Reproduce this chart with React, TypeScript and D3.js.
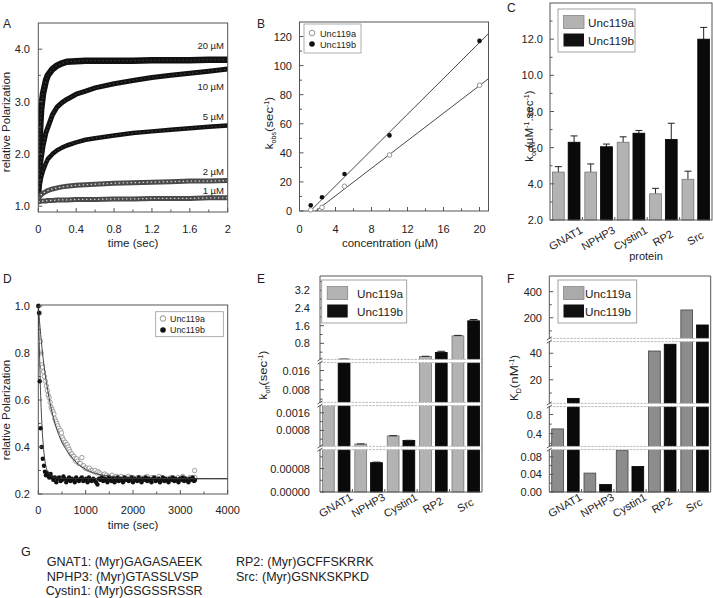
import React from "react";
import * as d3 from "d3";

const FONT = "Arial, 'Liberation Sans', Helvetica, sans-serif";
const AXIS = "#555";

// ---------------- Panel A: association traces ----------------
const timeA = [0, 0.01, 0.02, 0.03, 0.05, 0.08, 0.1, 0.15, 0.2, 0.25, 0.3, 0.4, 0.5, 0.6, 0.8, 1.0, 1.2, 1.4, 1.6, 1.8, 2.0];
const polA20 = [1.3, 2.0, 2.5, 2.85, 3.15, 3.4, 3.5, 3.62, 3.69, 3.73, 3.76, 3.77, 3.78, 3.78, 3.78, 3.78, 3.79, 3.79, 3.79, 3.8, 3.8];
const polA10 = [1.3, 1.55, 1.75, 1.9, 2.15, 2.4, 2.5, 2.75, 2.9, 2.98, 3.04, 3.14, 3.2, 3.26, 3.34, 3.4, 3.46, 3.5, 3.54, 3.58, 3.62];
const polA5 = [1.2, 1.35, 1.45, 1.55, 1.68, 1.82, 1.9, 2.0, 2.07, 2.12, 2.16, 2.22, 2.27, 2.3, 2.35, 2.4, 2.43, 2.46, 2.49, 2.52, 2.54];
const polA2 = [1.15, 1.18, 1.2, 1.22, 1.25, 1.28, 1.3, 1.33, 1.35, 1.37, 1.38, 1.4, 1.41, 1.42, 1.44, 1.45, 1.46, 1.47, 1.48, 1.48, 1.49];
const polA1 = [1.08, 1.09, 1.09, 1.1, 1.1, 1.1, 1.11, 1.11, 1.12, 1.12, 1.12, 1.13, 1.13, 1.13, 1.14, 1.14, 1.15, 1.15, 1.15, 1.16, 1.16];
const concLabelsA = ["20 µM", "10 µM", "5 µM", "2 µM", "1 µM"];
const xTicksA = [0, 0.4, 0.8, 1.2, 1.6, 2];
const xTickLabelsA = ["0", "0.4", "0.8", "1.2", "1.6", "2"];
const yTicksA = [1, 2, 3, 4];
const yTickLabelsA = ["1.0", "2.0", "3.0", "4.0"];

// ---------------- Panel B: kobs vs concentration ----------------
const concB = [1.25, 2.5, 5, 10, 20];
const kobsA = [0.8, 2.5, 17, 38.5, 86.5];
const kobsB = [4, 9.5, 25.5, 52, 117];
const fitLineA: [number, number][] = [[1.8, 0], [21, 91]];
const fitLineB: [number, number][] = [[1.2, 0], [21, 122]];
const xTicksB = [0, 4, 8, 12, 16, 20];
const yTicksB = [0, 20, 40, 60, 80, 100, 120];

// ---------------- Panels C, E, F: bar charts ----------------
const proteins = ["GNAT1", "NPHP3", "Cystin1", "RP2", "Src"];
const seriesNames = ["Unc119a", "Unc119b"];

const konA = [4.65, 4.65, 6.3, 3.45, 4.25];
const konAErr = [0.3, 0.45, 0.3, 0.3, 0.45];
const konB = [6.3, 6.05, 6.8, 6.45, 12.0];
const konBErr = [0.35, 0.15, 0.15, 0.9, 0.65];
const yTicksC = [2, 4, 6, 8, 10, 12];
const yTickLabelsC = ["2.0", "4.0", "6.0", "8.0", "10.0", "12.0"];

const koffA = [0.0022, 0.00018, 0.00055, 0.2, 1.14];
const koffAErr = [0.00003, 0.000005, 0.00001, 0.015, 0.02];
const koffB = [0.08, 0.0001, 0.00034, 0.39, 1.82];
const koffBErr = [0.005, 0.000002, 0.00001, 0.05, 0.06];
const koffSegDomains: [number, number][] = [[0, 0.00015], [0, 0.002], [0.002, 0.02], [0, 3.85]];
const koffTicks = [[0, 0.00008], [0.0008, 0.0016], [0.008, 0.016], [0.8, 1.6, 2.4, 3.2]];
const koffTickLabels = [["0.00000", "0.00008"], ["0.0008", "0.0016"], ["0.008", "0.016"], ["0.8", "1.6", "2.4", "3.2"]];
const koffMinor = [[0.00004, 0.00012], [0.0004, 0.0012], [0.004, 0.012], [0.4, 1.2, 2.0, 2.8, 3.6]];

const kdA = [0.5, 0.043, 0.094, 41.7, 260];
const kdB = [6, 0.017, 0.058, 46.8, 145];
const kdSegDomains: [number, number][] = [[0, 0.1], [0.1, 1.0], [1, 50], [30, 520]];
const kdTicks = [[0, 0.04, 0.08], [0.4, 0.8], [20, 40], [200, 400]];
const kdTickLabels = [["0.00", "0.04", "0.08"], ["0.4", "0.8"], ["20", "40"], ["200", "400"]];
const kdMinor = [[0.02, 0.06], [0.2, 0.6], [10, 30], [100, 300]];

// ---------------- Panel D: dissociation ----------------
const dissocA: [number, number][] = [
  [10, 1.0], [30, 0.97], [45, 0.85], [60, 0.8], [75, 0.75], [90, 0.74], [110, 0.72], [130, 0.7], [150, 0.68],
  [170, 0.66], [190, 0.64], [210, 0.62], [230, 0.61], [250, 0.59], [270, 0.57], [290, 0.56], [310, 0.55],
  [330, 0.54], [350, 0.52], [370, 0.51], [390, 0.5], [410, 0.49], [430, 0.48], [450, 0.47], [470, 0.47],
  [490, 0.46], [510, 0.44], [530, 0.43], [550, 0.42], [570, 0.42], [590, 0.41], [610, 0.41], [630, 0.4],
  [650, 0.39], [670, 0.38], [690, 0.37], [710, 0.37], [730, 0.36], [750, 0.36], [770, 0.35], [790, 0.34],
  [810, 0.35], [830, 0.34], [850, 0.33], [870, 0.33], [890, 0.33], [920, 0.355], [940, 0.32], [960, 0.32],
  [990, 0.31], [1020, 0.31], [1050, 0.305], [1080, 0.31], [1110, 0.3], [1140, 0.3], [1170, 0.295], [1200, 0.3],
  [1230, 0.29], [1260, 0.295], [1290, 0.29], [1320, 0.285], [1360, 0.28], [1400, 0.285], [1440, 0.28],
  [1480, 0.275], [1520, 0.275], [1560, 0.28], [1600, 0.27], [1650, 0.275], [1700, 0.27], [1750, 0.275],
  [1800, 0.27], [1850, 0.265], [1900, 0.275], [1950, 0.27], [2000, 0.27], [2050, 0.265], [2100, 0.27],
  [2150, 0.27], [2200, 0.265], [2250, 0.27], [2300, 0.275], [2350, 0.265], [2400, 0.27], [2450, 0.26],
  [2500, 0.265], [2550, 0.275], [2600, 0.27], [2650, 0.265], [2700, 0.26], [2750, 0.265], [2800, 0.27],
  [2850, 0.265], [2900, 0.26], [2950, 0.27], [3000, 0.265], [3050, 0.275], [3100, 0.265], [3150, 0.26],
  [3200, 0.27], [3250, 0.265], [3300, 0.3], [3310, 0.27],
];
const dissocB: [number, number][] = [
  [0, 1.0], [15, 0.97], [30, 0.68], [50, 0.48], [70, 0.4], [95, 0.35], [120, 0.32], [140, 0.295], [160, 0.28],
  [180, 0.29], [200, 0.28], [230, 0.27], [260, 0.285], [290, 0.27], [320, 0.26], [350, 0.27], [380, 0.25],
  [410, 0.265], [440, 0.27], [470, 0.255], [500, 0.26], [530, 0.275], [560, 0.265], [590, 0.25], [620, 0.26],
  [650, 0.27], [680, 0.255], [710, 0.265], [740, 0.26], [770, 0.25], [800, 0.27], [830, 0.26], [860, 0.255],
  [890, 0.265], [920, 0.27], [950, 0.255], [980, 0.26], [1010, 0.265], [1040, 0.25], [1070, 0.27], [1100, 0.26],
  [1130, 0.255], [1160, 0.265], [1190, 0.26], [1220, 0.25], [1250, 0.24], [1280, 0.265], [1310, 0.26],
  [1340, 0.27], [1370, 0.255], [1400, 0.265], [1430, 0.26], [1460, 0.25], [1490, 0.27], [1520, 0.26],
  [1550, 0.255], [1580, 0.265], [1610, 0.25], [1640, 0.26], [1670, 0.27], [1700, 0.255], [1730, 0.265],
  [1760, 0.26], [1790, 0.25], [1820, 0.27], [1850, 0.26], [1880, 0.265], [1910, 0.255], [1940, 0.26],
  [1970, 0.27], [2000, 0.25], [2030, 0.265], [2060, 0.26], [2090, 0.255], [2120, 0.27], [2150, 0.26],
  [2180, 0.25], [2210, 0.265], [2240, 0.26], [2270, 0.27], [2300, 0.255], [2330, 0.265], [2360, 0.26],
  [2390, 0.25], [2420, 0.265], [2450, 0.27], [2480, 0.255], [2510, 0.26], [2540, 0.265], [2570, 0.25],
  [2600, 0.26], [2630, 0.27], [2660, 0.255], [2690, 0.265], [2720, 0.26], [2750, 0.25], [2780, 0.265],
  [2810, 0.26], [2840, 0.27], [2870, 0.255], [2900, 0.265], [2930, 0.26], [2960, 0.25], [2990, 0.265],
  [3020, 0.26], [3050, 0.27], [3080, 0.255], [3110, 0.265], [3140, 0.26], [3170, 0.25], [3200, 0.265],
  [3230, 0.26], [3260, 0.27], [3290, 0.255], [3310, 0.26],
];
const fitDissocA: [number, number][] = [
  [0, 1.0], [50, 0.88], [100, 0.78], [200, 0.64], [300, 0.54], [400, 0.47], [500, 0.42], [600, 0.385],
  [800, 0.335], [1000, 0.305], [1200, 0.288], [1500, 0.276], [2000, 0.268], [3000, 0.265], [4000, 0.265],
];
const fitDissocB: [number, number][] = [
  [0, 1.0], [25, 0.8], [50, 0.62], [75, 0.5], [100, 0.42], [150, 0.33], [200, 0.295], [300, 0.272],
  [500, 0.266], [4000, 0.265],
];
const xTicksD = [0, 1000, 2000, 3000, 4000];
const yTicksD = [0.2, 0.4, 0.6, 0.8, 1.0];

const peptideLeft = ["GNAT1: (Myr)GAGASAEEK", "NPHP3: (Myr)GTASSLVSP", "Cystin1: (Myr)GSGSSRSSR"];
const peptideRightNames = ["RP2:", "Src:"];
const peptideRightSeqs = ["(Myr)GCFFSKRRK", "(Myr)GSNKSKPKD"];

// ---------------- text width (Arial metrics, per 1000 em) ----------------
const AW: Record<string, number> = {
  " ": 278, "(": 333, ")": 333, "-": 333, ".": 278, ":": 278, "µ": 576,
  "0": 556, "1": 556, "2": 556, "3": 556, "4": 556, "5": 556, "6": 556, "7": 556, "8": 556, "9": 556,
  A: 667, B: 667, C: 722, D: 722, E: 667, F: 611, G: 778, H: 722, I: 278, K: 667, L: 556, M: 833, N: 722,
  P: 667, R: 722, S: 667, T: 611, U: 722, V: 667, Y: 667,
  a: 556, b: 556, c: 500, d: 556, e: 556, f: 278, g: 556, h: 556, i: 222, k: 500, l: 222, m: 833, n: 556,
  o: 556, p: 556, r: 333, s: 500, t: 278, u: 556, v: 500, y: 500, z: 500,
};
function aw(s: string, size: number) {
  let w = 0;
  for (const ch of s) w += AW[ch] ?? 556;
  return (w / 1000) * size;
}

type TP = { x?: number; y?: number; size: number; anchor?: string; transform?: string; children: string; baseline?: string };
function T({ x, y, size, anchor, transform, children, baseline }: TP) {
  return (
    <text x={x} y={y} transform={transform} fontSize={size} textAnchor={anchor || "start"} dominantBaseline={baseline}
      fill="#222" textLength={aw(children, size)} lengthAdjust="spacingAndGlyphs">{children}</text>
  );
}

type Part = { t: string; k: "n" | "sub" | "sup" };
function Title({ cx, cy, size, parts }: { cx: number; cy: number; size: number; parts: Part[] }) {
  const small = size * 0.62;
  const total = parts.reduce((s, p) => s + aw(p.t, p.k === "n" ? size : small), 0);
  let xx = -total / 2;
  const items = parts.map((p, i) => {
    const fs = p.k === "n" ? size : small;
    const w = aw(p.t, fs);
    const yy = p.k === "sub" ? 2.5 : p.k === "sup" ? -4.5 : 0;
    const el = (
      <text key={i} x={xx} y={yy} fontSize={fs} fill="#222" textLength={w} lengthAdjust="spacingAndGlyphs">{p.t}</text>
    );
    xx += w;
    return el;
  });
  return <g transform={`translate(${cx},${cy}) rotate(-90)`}>{items}</g>;
}

// ---------------- helpers ----------------
function Frame({ x0, x1, y0, y1 }: { x0: number; x1: number; y0: number; y1: number }) {
  return <rect x={x0} y={y0} width={x1 - x0} height={y1 - y0} fill="none" stroke={AXIS} strokeWidth={1} />;
}
function yTickMarks(x0: number, ys: number[], len: number) {
  return ys.map((y, i) => <line key={"yt" + i + "_" + y} x1={x0} x2={x0 + len} y1={y} y2={y} stroke={AXIS} />);
}
function xTickMarks(y0: number, xs: number[], len: number) {
  return xs.map((x, i) => <line key={"xt" + i + "_" + x} x1={x} x2={x} y1={y0} y2={y0 - len} stroke={AXIS} />);
}

function PanelA() {
  const x = d3.scaleLinear().domain([0, 2]).range([38.3, 227.7]);
  const y = d3.scaleLinear().domain([0.89, 4.5]).range([212, 23]);
  const line = d3.line<number>().x((_, i) => x(timeA[i])).y((v) => y(v));
  const series = [polA20, polA10, polA5, polA2, polA1];
  const widths = [6.5, 5, 4.5];
  const labelOffsets = [-11, 21, -6, -6, -4];
  const minorX = d3.range(0.2, 2, 0.4);
  const minorY = [1.5, 2.5, 3.5];
  return (
    <g>
      <clipPath id="clipA"><rect x={38.3} y={23} width={189.4} height={189} /></clipPath>
      <g clipPath="url(#clipA)">
        {series.map((s, k) =>
          k < 3 ? (
            <g key={k}>
              <path d={line(s) || ""} fill="none" stroke="#111" strokeWidth={widths[k]} strokeLinejoin="round" strokeLinecap="round" />
              <path d={line(s) || ""} fill="none" stroke="#555" strokeWidth={1} strokeDasharray="1 3" />
            </g>
          ) : (
            <g key={k}>
              <path d={line(s) || ""} fill="none" stroke="#4a4a4a" strokeWidth={5} strokeLinejoin="round" strokeLinecap="round" />
              <path d={line(s) || ""} fill="none" stroke="#cfcfcf" strokeWidth={1.3} strokeDasharray="1.5 2.5" />
            </g>
          )
        )}
      </g>
      <Frame x0={38.3} x1={227.7} y0={23} y1={212} />
      {xTickMarks(212, xTicksA.map(x), 4)}
      {xTickMarks(212, minorX.map(x), 2.5)}
      {yTickMarks(38.3, yTicksA.map(y), 4)}
      {yTickMarks(38.3, minorY.map(y), 2.5)}
      {xTicksA.map((t, i) => (
        <T key={"xl" + i} x={x(t)} y={233} size={11} anchor="middle">{xTickLabelsA[i]}</T>
      ))}
      {yTicksA.map((t, i) => (
        <T key={"yl" + i} x={30} y={y(t) + 4} size={11} anchor="end">{yTickLabelsA[i]}</T>
      ))}
      {series.map((s, k) => (
        <T key={"cl" + k} x={224} y={y(s[s.length - 1]) + labelOffsets[k]} size={9.5} anchor="end">{concLabelsA[k]}</T>
      ))}
      <T x={133} y={247} size={11.5} anchor="middle">time (sec)</T>
      <Title cx={10} cy={122} size={11.5} parts={[{ t: "relative Polarization", k: "n" }]} />
      <T x={3} y={28} size={12}>A</T>
    </g>
  );
}

function PanelB() {
  const x = d3.scaleLinear().domain([0, 21]).range([299.5, 488.5]);
  const y = d3.scaleLinear().domain([0, 130]).range([211, 22]);
  const fl = d3.line<[number, number]>().x((d) => x(d[0])).y((d) => y(d[1]));
  return (
    <g>
      <Frame x0={299.5} x1={488.5} y0={22} y1={211} />
      <path d={fl(fitLineA) || ""} stroke="#333" strokeWidth={0.9} fill="none" />
      <path d={fl(fitLineB) || ""} stroke="#333" strokeWidth={0.9} fill="none" />
      {concB.map((c, i) => (
        <circle key={"a" + i} cx={x(c)} cy={y(kobsA[i])} r={2.3} fill="#fff" stroke="#888" strokeWidth={0.9} />
      ))}
      {concB.map((c, i) => (
        <circle key={"b" + i} cx={x(c)} cy={y(kobsB[i])} r={2.3} fill="#111" />
      ))}
      {xTickMarks(211, xTicksB.map(x), 4)}
      {xTickMarks(211, [2, 6, 10, 14, 18].map(x), 2.5)}
      {yTickMarks(299.5, yTicksB.map(y), 4)}
      {yTickMarks(299.5, [10, 30, 50, 70, 90, 110].map(y), 2.5)}
      {xTicksB.map((t) => (
        <T key={"xl" + t} x={x(t)} y={233} size={11} anchor="middle">{String(t)}</T>
      ))}
      {yTicksB.map((t) => (
        <T key={"yl" + t} x={292} y={y(t) + 4} size={11} anchor="end">{String(t)}</T>
      ))}
      <T x={390} y={247} size={11.5} anchor="middle">concentration (µM)</T>
      <Title cx={273} cy={123} size={11.5} parts={[{ t: "k", k: "n" }, { t: "obs", k: "sub" }, { t: " (sec", k: "n" }, { t: "-1", k: "sup" }, { t: ")", k: "n" }]} />
      <rect x={304} y={24} width={57} height={29} fill="#fff" stroke="#999" strokeWidth={0.8} />
      <circle cx={312} cy={33} r={2.8} fill="#fff" stroke="#888" strokeWidth={0.9} />
      <circle cx={312} cy={44} r={2.8} fill="#111" />
      <T x={320} y={36.5} size={9}>{seriesNames[0]}</T>
      <T x={320} y={47.5} size={9}>{seriesNames[1]}</T>
      <T x={257} y={28} size={12}>B</T>
    </g>
  );
}

function bands(x0: number, x1: number) {
  const outer = d3.scaleBand<string>().domain(proteins).range([x0, x1]).paddingInner(0.15).paddingOuter(0.075);
  const inner = d3.scaleBand<string>().domain(["a", "b"]).range([0, outer.bandwidth()]).paddingInner(0.25);
  return { outer, inner, step: (x1 - x0) / proteins.length };
}

function Legend3({ x, y, w, h, grayFill, textX }: { x: number; y: number; w: number; h: number; grayFill: string; textX: number }) {
  return (
    <g>
      <rect x={x} y={y} width={w} height={h} fill="#fff" stroke="#999" strokeWidth={0.9} />
      <rect x={x + 5.5} y={y + 6.5} width={20.5} height={13} fill={grayFill} stroke="#888" strokeWidth={0.8} />
      <rect x={x + 5.5} y={y + 24.5} width={20.5} height={13} fill="#111" />
      <T x={textX} y={y + 17.5} size={11.5}>{seriesNames[0]}</T>
      <T x={textX} y={y + 35.5} size={11.5}>{seriesNames[1]}</T>
    </g>
  );
}

function XCatLabels({ outer, yAxis, dy }: { outer: d3.ScaleBand<string>; yAxis: number; dy: number }) {
  return (
    <g>
      {proteins.map((p) => (
        <T key={p} transform={`translate(${(outer(p) || 0) + outer.bandwidth() / 2},${yAxis + dy}) rotate(-30)`} size={11} anchor="middle" baseline="middle">{p}</T>
      ))}
    </g>
  );
}

function PanelC() {
  const x0 = 550, x1 = 712, yT = 3, yB = 220;
  const y = d3.scaleLinear().domain([2, 14]).range([yB, yT]);
  const { outer, inner, step } = bands(x0, x1);
  const bw = inner.bandwidth();
  const data = [
    { key: "a", vals: konA, errs: konAErr, fill: "#b3b3b3", stroke: "#777" },
    { key: "b", vals: konB, errs: konBErr, fill: "#0a0a0a", stroke: "#000" },
  ];
  return (
    <g>
      {data.map((s) =>
        proteins.map((p, i) => {
          const bx = (outer(p) || 0) + (inner(s.key) || 0);
          const cx = bx + bw / 2;
          return (
            <g key={s.key + p}>
              <line x1={cx} x2={cx} y1={y(s.vals[i])} y2={y(s.vals[i] + s.errs[i])} stroke="#222" strokeWidth={1} />
              <line x1={cx - 3.5} x2={cx + 3.5} y1={y(s.vals[i] + s.errs[i])} y2={y(s.vals[i] + s.errs[i])} stroke="#222" strokeWidth={1} />
              <rect x={bx} y={y(s.vals[i])} width={bw} height={yB - y(s.vals[i])} fill={s.fill} stroke={s.stroke} strokeWidth={0.8} />
            </g>
          );
        })
      )}
      <Frame x0={x0} x1={x1} y0={yT} y1={yB} />
      {yTickMarks(x0, yTicksC.map(y), 4)}
      {yTickMarks(x0, [3, 5, 7, 9, 11, 13].map(y), 2.5)}
      {xTickMarks(yB, [1, 2, 3, 4].map((i) => x0 + i * step), 3)}
      {yTicksC.map((t, i) => (
        <T key={"yl" + t} x={543} y={y(t) + 4} size={11} anchor="end">{yTickLabelsC[i]}</T>
      ))}
      <XCatLabels outer={outer} yAxis={yB} dy={19} />
      <T x={646} y={260} size={11} anchor="middle">protein</T>
      <Title cx={533} cy={126} size={11.5} parts={[{ t: "k", k: "n" }, { t: "on", k: "sub" }, { t: "(µM", k: "n" }, { t: "-1", k: "sup" }, { t: ".sec", k: "n" }, { t: "-1", k: "sup" }, { t: ")", k: "n" }]} />
      <Legend3 x={558} y={9} w={77} h={43} grayFill="#b3b3b3" textX={588} />
      <T x={507} y={12} size={12}>C</T>
    </g>
  );
}

function makeBroken(domains: [number, number][], ranges: [number, number][]) {
  const sc = domains.map((d, i) => d3.scaleLinear().domain(d).range(ranges[i]));
  return (v: number) => {
    for (let i = 0; i < domains.length; i++) {
      if (v <= domains[i][1] || i === domains.length - 1) return sc[i](Math.max(v, domains[i][0]));
    }
    return sc[0](v);
  };
}

function BrokenBarPanel(props: {
  x0: number; x1: number; yT: number; yB: number;
  ranges: [number, number][]; domains: [number, number][];
  ticks: number[][]; tickLabels: string[][]; minor: number[][];
  valsA: number[]; valsB: number[]; errA?: number[]; errB?: number[];
  grayFill: string; grayStroke: string; labelX: number;
}) {
  const { x0, x1, yT, yB, ranges, domains, ticks, tickLabels, minor, valsA, valsB, errA, errB, grayFill, grayStroke, labelX } = props;
  const ym = makeBroken(domains, ranges);
  const segScales = domains.map((d, i) => d3.scaleLinear().domain(d).range(ranges[i]));
  const { outer, inner, step } = bands(x0, x1);
  const bw = inner.bandwidth();
  const data = [
    { key: "a", vals: valsA, errs: errA, fill: grayFill, stroke: grayStroke },
    { key: "b", vals: valsB, errs: errB, fill: "#0a0a0a", stroke: "#000" },
  ];
  const breaks = ranges.slice(0, ranges.length - 1).map((r) => r[1]);
  return (
    <g>
      {data.map((s) =>
        proteins.map((p, i) => {
          const bx = (outer(p) || 0) + (inner(s.key) || 0);
          const top = ym(s.vals[i]);
          const etop = s.errs ? ym(s.vals[i] + s.errs[i]) : top;
          return (
            <g key={s.key + p}>
              <rect x={bx} y={top} width={bw} height={yB - top} fill={s.fill} stroke={s.stroke} strokeWidth={0.8} />
              {s.errs ? (
                <g>
                  <line x1={bx + bw / 2} x2={bx + bw / 2} y1={top} y2={etop} stroke="#222" />
                  <line x1={bx + 2} x2={bx + bw - 2} y1={etop} y2={etop} stroke="#222" />
                </g>
              ) : null}
            </g>
          );
        })
      )}
      {breaks.map((b, i) => (
        <g key={"br" + i}>
          <rect x={x0 - 3} y={b - 1.6} width={x1 - x0 + 3} height={3.2} fill="#fff" />
          <line x1={x0} x2={x1} y1={b - 1.6} y2={b - 1.6} stroke="#b5b5b5" strokeWidth={0.9} strokeDasharray="2.5 1" />
          <line x1={x0} x2={x1} y1={b + 1.6} y2={b + 1.6} stroke="#b5b5b5" strokeWidth={0.9} strokeDasharray="2.5 1" />
        </g>
      ))}
      <line x1={x0} x2={x1} y1={yT} y2={yT} stroke={AXIS} />
      <line x1={x0} x2={x1} y1={yB} y2={yB} stroke={AXIS} />
      <line x1={x1} x2={x1} y1={yT} y2={yB} stroke={AXIS} />
      {ranges.map((r, i) => (
        <line key={"ax" + i} x1={x0} x2={x0} y1={r[0] - (i === 0 ? 0 : 1.6)} y2={r[1] + (i === ranges.length - 1 ? 0 : 1.6)} stroke={AXIS} />
      ))}
      {breaks.map((b, i) => (
        <g key={"sl" + i}>
          <line x1={x0 - 2.5} x2={x0 + 2.5} y1={b + 3.2} y2={b} stroke="#444" strokeWidth={0.9} />
          <line x1={x0 - 2.5} x2={x0 + 2.5} y1={b} y2={b - 3.2} stroke="#444" strokeWidth={0.9} />
        </g>
      ))}
      {ticks.map((ts, i) => yTickMarks(x0, ts.map((t) => segScales[i](t)), 4))}
      {minor.map((ts, i) => yTickMarks(x0, ts.map((t) => segScales[i](t)), 2.5))}
      {xTickMarks(yB, [1, 2, 3, 4].map((i) => x0 + i * step), 3)}
      {ticks.map((ts, i) =>
        ts.map((t, j) => (
          <T key={"tl" + i + "_" + j} x={labelX} y={segScales[i](t) + 4} size={11} anchor="end">{tickLabels[i][j]}</T>
        ))
      )}
      <XCatLabels outer={outer} yAxis={yB} dy={14} />
    </g>
  );
}

function PanelD() {
  const x = d3.scaleLinear().domain([0, 4000]).range([38.3, 227.7]);
  const y = d3.scaleLinear().domain([0.2, 1.0]).range([494, 306]);
  const fl = d3.line<[number, number]>().x((d) => x(d[0])).y((d) => y(d[1])).curve(d3.curveMonotoneX);
  return (
    <g>
      <Frame x0={38.3} x1={227.7} y0={305} y1={494} />
      {dissocA.map((d, i) => (
        <circle key={"a" + i} cx={x(d[0])} cy={y(d[1])} r={2.2} fill="#fff" stroke="#8a8a8a" strokeWidth={0.8} />
      ))}
      {dissocB.map((d, i) => (
        <circle key={"b" + i} cx={x(d[0])} cy={y(d[1])} r={2.2} fill="#111" />
      ))}
      <path d={fl(fitDissocA) || ""} fill="none" stroke="#333" strokeWidth={0.9} />
      <path d={fl(fitDissocB) || ""} fill="none" stroke="#333" strokeWidth={0.9} />
      {xTickMarks(494, xTicksD.map(x), 4)}
      {xTickMarks(494, [500, 1500, 2500, 3500].map(x), 2.5)}
      {yTickMarks(38.3, yTicksD.map(y), 4)}
      {yTickMarks(38.3, [0.3, 0.5, 0.7, 0.9].map(y), 2.5)}
      {xTicksD.map((t) => (
        <T key={"xl" + t} x={x(t)} y={514} size={11} anchor="middle">{String(t)}</T>
      ))}
      {yTicksD.map((t) => (
        <T key={"yl" + t} x={30} y={y(t) + 4} size={11} anchor="end">{t.toFixed(1)}</T>
      ))}
      <T x={133} y={529} size={11.5} anchor="middle">time (sec)</T>
      <Title cx={10} cy={410} size={11.5} parts={[{ t: "relative Polarization", k: "n" }]} />
      <rect x={155.7} y={311.7} width={67.6} height={25} fill="#fff" stroke="#999" strokeWidth={0.8} />
      <circle cx={163} cy={318.5} r={2.8} fill="#fff" stroke="#888" strokeWidth={0.9} />
      <circle cx={163} cy={330} r={2.8} fill="#111" />
      <T x={170} y={321.8} size={8.7}>{seriesNames[0]}</T>
      <T x={170} y={333.3} size={8.7}>{seriesNames[1]}</T>
      <T x={3} y={283} size={12}>D</T>
    </g>
  );
}

function PanelE() {
  return (
    <g>
      <BrokenBarPanel
        x0={320} x1={482} yT={276} yB={492}
        ranges={[[492, 448], [448, 404], [404, 361], [361, 276]]}
        domains={koffSegDomains} ticks={koffTicks} tickLabels={koffTickLabels} minor={koffMinor}
        valsA={koffA} valsB={koffB} errA={koffAErr} errB={koffBErr}
        grayFill="#b3b3b3" grayStroke="#777" labelX={310}
      />
      <Title cx={267} cy={375} size={11.5} parts={[{ t: "k", k: "n" }, { t: "off", k: "sub" }, { t: " (sec", k: "n" }, { t: "-1", k: "sup" }, { t: ")", k: "n" }]} />
      <Legend3 x={321.7} y={280} w={85} h={43} grayFill="#b3b3b3" textX={357} />
      <T x={257} y={283} size={12}>E</T>
    </g>
  );
}

function PanelF() {
  return (
    <g>
      <BrokenBarPanel
        x0={549.3} x1={710.7} yT={276} yB={492}
        ranges={[[492, 448], [448, 405], [405, 340], [340, 276]]}
        domains={kdSegDomains} ticks={kdTicks} tickLabels={kdTickLabels} minor={kdMinor}
        valsA={kdA} valsB={kdB}
        grayFill="#8c8c8c" grayStroke="#444" labelX={542}
      />
      <Title cx={518} cy={378} size={11.5} parts={[{ t: "K", k: "n" }, { t: "D", k: "sub" }, { t: " (nM", k: "n" }, { t: "-1", k: "sup" }, { t: ")", k: "n" }]} />
      <Legend3 x={558} y={280} w={78.7} h={43} grayFill="#aaaaaa" textX={585} />
      <T x={507} y={283} size={12}>F</T>
    </g>
  );
}

function PanelG() {
  const ys = [566, 581, 595];
  return (
    <g>
      <T x={21} y={556} size={12.5}>G</T>
      {peptideLeft.map((t, i) => (
        <T key={t} x={i === 2 ? 45.7 : 46.7} y={ys[i]} size={12.5}>{t}</T>
      ))}
      <T x={236} y={ys[0]} size={12.5}>{peptideRightNames[0] + " " + peptideRightSeqs[0]}</T>
      <T x={236} y={ys[1]} size={12.5}>{peptideRightNames[1]}</T>
      <T x={262} y={ys[1]} size={12.5}>{peptideRightSeqs[1]}</T>
    </g>
  );
}

export default function App() {
  return (
    <svg width={713} height={598} style={{ position: "absolute", left: 0, top: 0, background: "#fff", fontFamily: FONT }} fontFamily={FONT}>
      <rect width={713} height={598} fill="#fff" />
      <PanelA />
      <PanelB />
      <PanelC />
      <PanelD />
      <PanelE />
      <PanelF />
      <PanelG />
    </svg>
  );
}
